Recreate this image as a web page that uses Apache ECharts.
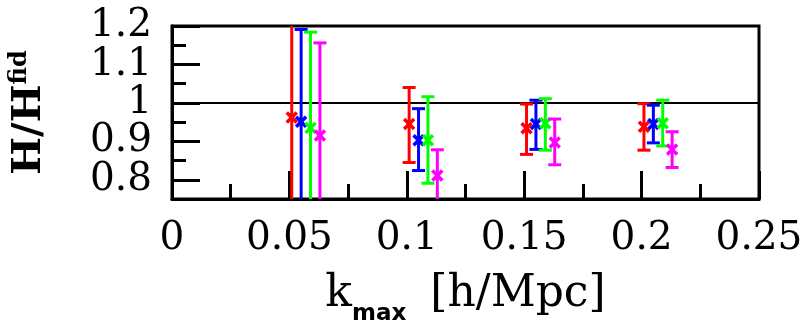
<!DOCTYPE html>
<html>
<head>
<meta charset="utf-8">
<script src="https://cdn.jsdelivr.net/npm/echarts@6/dist/echarts.min.js"></script>
<style>
   html, body { margin: 0; padding: 0; background: #fff; }
   #chart { width: 807px; height: 324px; }
</style>
</head>
<body>
<div id="chart"></div>
<script>
// H/H^fid vs k_max, four runs, each point with its error bar
// bars that run off the frame are given far-away ends (0.6 / 1.4) and clipped
const redK = [0.051, 0.101, 0.151, 0.201];
const redH = [0.962, 0.945, 0.934, 0.938];
const redLow = [0.6, 0.845, 0.866, 0.877];
const redHigh = [1.4, 1.04, 0.997, 0.998];

const blueK = [0.055, 0.105, 0.155, 0.205];
const blueH = [0.951, 0.903, 0.945, 0.945];
const blueLow = [0.6, 0.824, 0.879, 0.896];
const blueHigh = [1.191, 0.985, 1.007, 0.994];

const greenK = [0.059, 0.109, 0.159, 0.209];
const greenH = [0.935, 0.903, 0.947, 0.947];
const greenLow = [0.6, 0.791, 0.877, 0.888];
const greenHigh = [1.184, 1.016, 1.011, 1.007];

const magentaK = [0.063, 0.113, 0.163, 0.213];
const magentaH = [0.915, 0.811, 0.897, 0.879];
const magentaLow = [0.6, 0.7, 0.839, 0.832];
const magentaHigh = [1.156, 0.878, 0.958, 0.925];

const yLabels = ['0.8', '0.9', '1', '1.1', '1.2'];

const fiducial = 1;
const kMin = 0, kMax = 0.25, kStep = 0.05;
const hMin = 0.75, hMax = 1.2;

const FONT = 'DejaVu Serif';

function errorSeries(name, color, k, h, low, high) {
   const data = k.map(function (x, i) { return [x, h[i], low[i], high[i]]; });
   return {
      name: name,
      type: 'custom',
      clip: true,
      z: 3,
      encode: { x: 0, y: 1 },
      data: data,
      renderItem: function (params, api) {
         const p = api.coord([api.value(0), api.value(1)]);
         const lo = api.coord([api.value(0), api.value(2)]);
         const hi = api.coord([api.value(0), api.value(3)]);
         const cap = 6.5, m = 5;
         const style = { stroke: color, lineWidth: 3, fill: null };
         const seg = function (x1, y1, x2, y2, w) {
            return { type: 'line', shape: { x1: x1, y1: y1, x2: x2, y2: y2 },
                     style: Object.assign({}, style, w ? { lineWidth: w } : {}) };
         };
         return {
            type: 'group',
            children: [
               seg(hi[0], hi[1], lo[0], lo[1]),
               seg(hi[0] - cap, hi[1], hi[0] + cap, hi[1]),
               seg(lo[0] - cap, lo[1], lo[0] + cap, lo[1]),
               seg(p[0] - m, p[1] - m, p[0] + m, p[1] + m, 3.5),
               seg(p[0] - m, p[1] + m, p[0] + m, p[1] - m, 3.5)
            ]
         };
      }
   };
}

const option = {
   backgroundColor: '#fff',
   animation: false,
   grid: {
      left: 172, right: 48, top: 26, bottom: 125,
      outerBoundsMode: 'none',
      containLabel: false,
      show: true, borderColor: '#000', borderWidth: 3
   },
   xAxis: {
      type: 'value',
      min: kMin, max: kMax, interval: kStep,
      name: '{k|k}{sub|max}{u|[h/Mpc]}',
      nameLocation: 'middle',
      nameGap: 64,
      nameTextStyle: {
         rich: {
            k: { fontFamily: FONT, fontSize: 44, color: '#000', lineHeight: 44 },
            sub: { fontFamily: 'DejaVu Sans', fontSize: 23, color: '#000', fontWeight: 'bold', lineHeight: 24, padding: [40, 0, 0, 0] },
            u: { fontFamily: FONT, fontSize: 44, color: '#000', lineHeight: 44, padding: [0, 0, 0, 24] }
         }
      },
      axisLine: { lineStyle: { color: '#000', width: 3 } },
      axisTick: { inside: true, length: 28, lineStyle: { color: '#000', width: 3 } },
      minorTick: { show: true, splitNumber: 2, length: 15, lineStyle: { color: '#000', width: 3 } },
      splitLine: { show: false },
      axisLabel: { fontFamily: FONT, fontSize: 39, color: '#000', margin: 20 }
   },
   yAxis: [
      {
         // long ticks at 0.8, 0.9 ... (auto interval 0.1)
         type: 'value',
         min: hMin, max: hMax, splitNumber: 5,
         name: '{a|H/H}{sup|fid}',
         nameLocation: 'middle',
         nameRotate: 90,
         nameGap: 120,
         nameTextStyle: {
            rich: {
               a: { fontFamily: FONT, fontSize: 40, color: '#000', fontWeight: 'bold', lineHeight: 44 },
               sup: { fontFamily: FONT, fontSize: 24, color: '#000', fontWeight: 'bold', lineHeight: 24, verticalAlign: 'top', padding: [0, 0, 16, 0] }
            }
         },
         axisLine: { lineStyle: { color: '#000', width: 3 } },
         axisTick: { inside: true, length: 28, lineStyle: { color: '#000', width: 3 } },
         splitLine: { show: false },
         axisLabel: { show: false }
      },
      {
         // short ticks every 0.05, labels on the tenths
         type: 'value',
         position: 'left',
         min: hMin, max: hMax, interval: 0.05,
         axisLine: { show: false },
         axisTick: { inside: true, length: 14, lineStyle: { color: '#000', width: 3 } },
         axisLabel: {
            fontFamily: FONT, fontSize: 39, color: '#000', margin: 20,
            showMinLabel: false, showMaxLabel: true,
            formatter: function (v) {
               const s = String(+v.toFixed(2));
               return yLabels.indexOf(s) >= 0 ? s : '';
            }
         },
         splitLine: { show: false }
      }
   ],
   series: [
      {
         name: 'fiducial',
         type: 'line',
         z: 1,
         symbol: 'none',
         silent: true,
         lineStyle: { color: '#000', width: 2 },
         data: [[kMin, fiducial], [kMax, fiducial]]
      },
      errorSeries('red', '#ff0000', redK, redH, redLow, redHigh),
      errorSeries('blue', '#0000ff', blueK, blueH, blueLow, blueHigh),
      errorSeries('green', '#00ff00', greenK, greenH, greenLow, greenHigh),
      errorSeries('magenta', '#ff00ff', magentaK, magentaH, magentaLow, magentaHigh)
   ]
};

const chart = echarts.init(document.getElementById('chart'), null, { renderer: 'canvas' });
chart.setOption(option);
</script>
</body>
</html>
